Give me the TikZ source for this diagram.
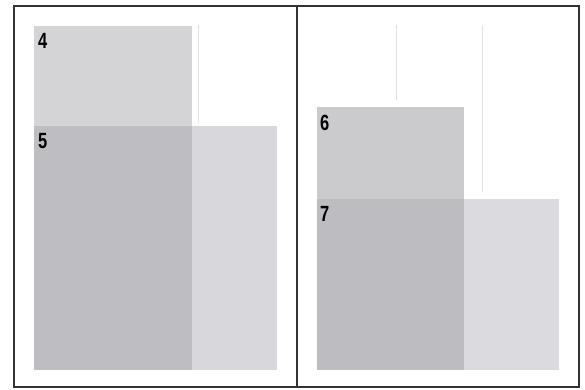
\documentclass[tikz,border=0pt]{standalone}
\usepackage{fontspec}
\setmainfont{Liberation Sans}
\begin{document}
\begin{tikzpicture}[x=1pt,y=-1pt,
  frame/.style={draw=black!80,line width=1.1pt},
  faint/.style={draw=black!12,line width=0.8pt},
  lbl/.style={anchor=north west,inner sep=0pt,font=\bfseries\fontsize{22}{22}\selectfont,xscale=0.75}]
\useasboundingbox (0,0) rectangle (585,389);
\fill[white] (0,0) rectangle (585,389);
% faint guide lines
\draw[faint] (198,25) -- (198,122);
\draw[faint] (396,25) -- (396,100);
\draw[faint] (482,25) -- (482,192);
% left panel
\fill[fill={rgb,255:red,212;green,212;blue,215}] (34,26) rectangle (192,126);
\fill[fill={rgb,255:red,189;green,189;blue,194}] (34,126) rectangle (192,370);
\fill[fill={rgb,255:red,216;green,216;blue,220}] (192,126) rectangle (277,370);
% right panel
\fill[fill={rgb,255:red,203;green,203;blue,206}] (317,107) rectangle (464,199);
\fill[fill={rgb,255:red,188;green,188;blue,193}] (317,199) rectangle (464,370);
\fill[fill={rgb,255:red,219;green,219;blue,223}] (464,199) rectangle (559,370);
% labels
\node[lbl] (l4) at (38,33) {4};
\node[lbl] (l5) at (38,133) {5};
\node[lbl] (l6) at (320,115) {6};
\node[lbl] (l7) at (320,206) {7};
% frame
\draw[frame] (14,6) rectangle (579,387);
\draw[frame] (297,6) -- (297,387);
\end{tikzpicture}
\end{document}
